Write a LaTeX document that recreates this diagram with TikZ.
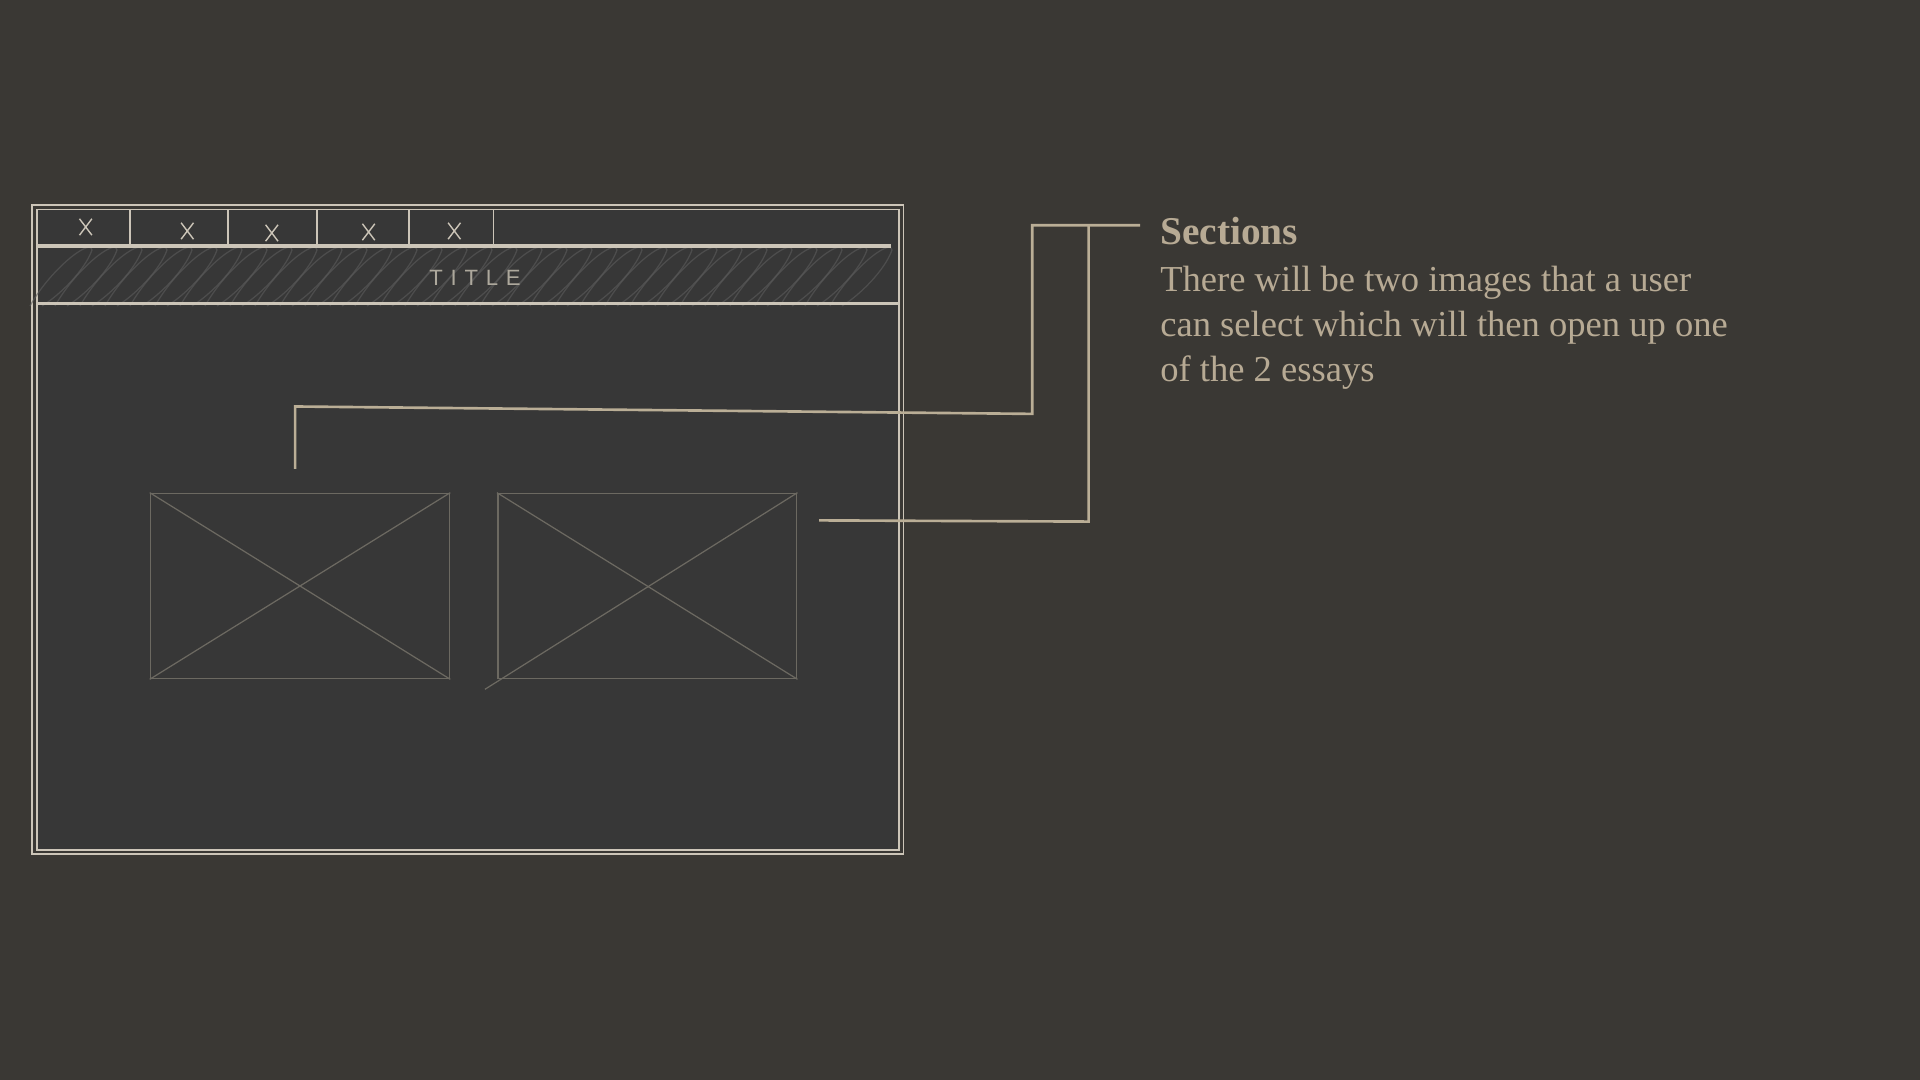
\documentclass[tikz,border=0pt]{standalone}
\usepackage{fontspec}
\setmainfont{Liberation Serif}
\newfontfamily\titlefont[LetterSpace=35]{Liberation Sans}
\usetikzlibrary{shapes.misc}
\definecolor{bgcol}{RGB}{58,56,52}
\definecolor{wincol}{RGB}{55,55,55}
\definecolor{framecol}{RGB}{204,197,184}
\definecolor{boxcol}{RGB}{108,105,97}
\definecolor{callcol}{RGB}{186,174,150}
\definecolor{textcol}{RGB}{183,170,148}
\definecolor{scribcol}{RGB}{92,92,92}

\begin{document}
\begin{tikzpicture}

	\tikzset{frame/.style = {draw=framecol, line width=0.45pt}}
	\tikzset{tabmark/.style = {cross out, draw=framecol, line width=0.4pt, minimum width=1.1mm, minimum height=1.5mm, inner sep=0}}
	\tikzset{imgbox/.style = {draw=boxcol, line width=0.5pt, minimum width=2.988cm, minimum height=1.849cm, inner sep=0}}
	\tikzset{imgline/.style = {draw=boxcol, line width=0.35pt}}
	\tikzset{callout/.style = {draw=callcol, line width=0.75pt}}
	\tikzset{note/.style = {text=textcol, inner sep=0, font=\fontsize{10.4}{12.9}\selectfont}}
	\fill[bgcol] (0,0) rectangle (19.2,10.8);
	\useasboundingbox (0,0) rectangle (19.2,10.8);
	% window
	\node[frame, fill=wincol, minimum width=8.621cm, minimum height=6.404cm, inner sep=0] (win) at (4.678,5.504) {};
	\draw[frame] ([shift={(-0.037,0.037)}]win.north west) rectangle ([shift={(0.037,-0.037)}]win.south east);
	% title band
	\foreach \x in {0.3,0.55,...,8.5}
		\draw[scribcol, line width=0.35pt, opacity=0.6] (\x,7.74) .. controls (\x+0.2,8.1) and (\x+0.6,8.42) .. (\x+0.62,8.3) .. controls (\x+0.55,8.1) and (\x+0.3,7.85) .. (\x+0.12,7.74);
	\draw[frame, line width=1.2pt] (0.367,8.339) -- (8.914,8.339);
	\draw[frame, line width=1pt] (0.367,7.763) -- (8.988,7.763);
	\foreach \x in {1.298,2.278,3.171,4.090,4.935}
		\draw[frame] (\x,8.706) -- (\x,8.339);
	\node[tabmark] (t1) at (0.857,8.53) {};
	\node[tabmark] (t2) at (1.873,8.49) {};
	\node[tabmark] (t3) at (2.718,8.47) {};
	\node[tabmark] (t4) at (3.686,8.48) {};
	\node[tabmark] (t5) at (4.543,8.49) {};
	\node[text=framecol!85!black, inner sep=0] (title) at (4.751,8.02) {\titlefont\fontsize{6.3}{7}\selectfont TITLE};
	% images
	\node[imgbox] (img1) at (3.0,4.94) {};
	\node[imgbox] (img2) at (6.472,4.94) {};
	\draw[imgline] (img1.north west) -- (img1.south east);
	\draw[imgline] (img1.south west) -- (img1.north east);
	\draw[imgline] (img2.north west) -- (img2.south east);
	\draw[imgline] ([shift={(-0.12,-0.1)}]img2.south west) -- (img2.north east);
	% note
	\node[note, anchor=base west, font=\bfseries\fontsize{11.2}{12.9}\selectfont] (sec) at (11.596,8.351) {Sections};
	\node[note, anchor=north west, align=left] (desc) at (11.596,8.15) {There will be two images that a user\\can select which will then open up one\\of the 2 essays};
	%edges
	\coordinate (p1) at (2.951,6.110);
	\coordinate (p2) at (8.192,5.596);
	\coordinate (q1) at (11.40,8.547);
	\draw[callout] (p1) -- (2.951,6.735) -- (10.323,6.661) -- (10.323,8.547) -- (q1);
	\draw[callout] (p2) -- (10.886,5.584) -- (10.886,8.547);
\end{tikzpicture}
\end{document}
